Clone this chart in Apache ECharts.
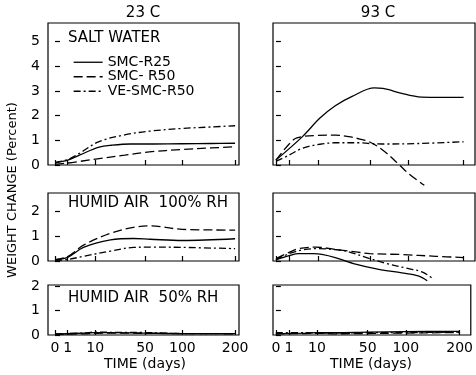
<!DOCTYPE html>
<html>
<head>
<meta charset="utf-8">
<script src="https://cdn.jsdelivr.net/npm/echarts@6/dist/echarts.min.js"></script>
<style>html,body{margin:0;padding:0;background:#fff}#c{width:476px;height:375px}</style>
</head>
<body>
<div id="c"></div>
<script>
// x tick labels (days)
var xTicks = [0, 1, 10, 50, 100, 200];
var yTicksTop = [0, 1, 2, 3, 4, 5];
var yTicksSmall = [0, 1, 2];
var seriesNames = ['SMC-R25', 'SMC- R50', 'VE-SMC-R50'];

// 23 C, salt water
var sw23_t_r25 = [0, 1, 4, 12, 20, 35, 60, 100, 150, 200];
var sw23_v_r25 = [0.1, 0.2, 0.42, 0.72, 0.8, 0.85, 0.85, 0.86, 0.87, 0.88];
var sw23_t_r50 = [0, 1, 4, 12, 30, 55, 100, 150, 200];
var sw23_v_r50 = [0.03, 0.08, 0.15, 0.26, 0.4, 0.53, 0.63, 0.69, 0.74];
var sw23_t_ve = [0, 1, 4, 12, 30, 55, 100, 150, 200];
var sw23_v_ve = [0.1, 0.22, 0.5, 0.95, 1.22, 1.37, 1.48, 1.54, 1.59];

// 93 C, salt water
var sw93_t_r25 = [0, 4, 11, 20, 33, 55, 65, 90, 115, 145, 200];
var sw93_v_r25 = [0.2, 1.15, 1.9, 2.4, 2.78, 3.12, 3.1, 2.9, 2.76, 2.74, 2.74];
var sw93_t_r50 = [0, 1, 2.5, 10, 20, 30, 40, 50, 65, 85, 100, 125];
var sw93_v_r50 = [0.2, 0.85, 1.1, 1.2, 1.21, 1.15, 1.05, 0.93, 0.6, 0.05, -0.35, -0.82];
var sw93_t_ve = [0, 1, 4, 11, 20, 40, 50, 65, 115, 200];
var sw93_v_ve = [0.15, 0.4, 0.68, 0.84, 0.9, 0.9, 0.87, 0.85, 0.87, 0.94];

// 23 C, humid air 100% RH
var h100_23_t_r25 = [0, 1, 5, 19, 38, 56, 100, 200];
var h100_23_v_r25 = [0.05, 0.15, 0.55, 0.85, 0.91, 0.88, 0.83, 0.9];
var h100_23_t_r50 = [0, 1, 5, 19, 38, 56, 100, 200];
var h100_23_v_r50 = [0.05, 0.18, 0.64, 1.12, 1.36, 1.42, 1.28, 1.25];
var h100_23_t_ve = [0, 1, 5, 19, 38, 56, 100, 200];
var h100_23_v_ve = [0.02, 0.06, 0.19, 0.4, 0.55, 0.56, 0.55, 0.5];

// 93 C, humid air 100% RH
var h100_93_t_r25 = [0, 1, 3, 8, 12, 20, 36, 60, 90, 115, 130];
var h100_93_v_r25 = [0.05, 0.22, 0.3, 0.3, 0.27, 0.14, -0.13, -0.34, -0.48, -0.6, -0.8];
var h100_93_t_r50 = [0, 1, 3, 9, 20, 36, 50, 90, 145, 200];
var h100_93_v_r50 = [0.1, 0.35, 0.5, 0.56, 0.47, 0.37, 0.3, 0.26, 0.19, 0.14];
var h100_93_t_ve = [0, 1, 4, 10, 20, 28, 50, 69, 100, 122, 142];
var h100_93_v_ve = [0.05, 0.3, 0.45, 0.5, 0.46, 0.4, 0.1, -0.1, -0.31, -0.45, -0.75];

// 23 C, humid air 50% RH
var h50_23_t = [0, 5, 10, 20, 50, 100, 200];
var h50_23_v_r25 = [0.03, 0.08, 0.1, 0.1, 0.08, 0.06, 0.06];
var h50_23_v_r50 = [0.02, 0.05, 0.07, 0.08, 0.07, 0.06, 0.05];
var h50_23_v_ve = [0.05, 0.08, 0.12, 0.11, 0.1, 0.06, 0.06];

// 93 C, humid air 50% RH
var h50_93_t = [0, 5, 10, 20, 50, 100, 200];
var h50_93_v_r25 = [0.05, 0.08, 0.1, 0.1, 0.12, 0.14, 0.15];
var h50_93_v_r50 = [0.05, 0.06, 0.07, 0.05, 0.06, 0.08, 0.1];
var h50_93_v_ve = [0.1, 0.1, 0.08, 0.08, 0.1, 0.1, 0.12];

var FONT = 'DejaVu Sans';
var chart = echarts.init(document.getElementById('c'), null, {renderer: 'canvas'});

function pts(ts, vs) {
  return ts.map(function (t, i) { return [Math.sqrt(t), vs[i]]; });
}
var dashTypes = ['solid', [9, 4], [7, 3, 2, 3]];

var grids = [
  {left: 48, top: 23, width: 191, height: 142},
  {left: 273, top: 23, width: 202, height: 142},
  {left: 48, top: 193, width: 191, height: 68},
  {left: 273, top: 193, width: 202, height: 68},
  {left: 48, top: 285, width: 191, height: 50},
  {left: 273, top: 285, width: 202, height: 50}
];
grids.forEach(function (g) { g.show = true; g.borderColor = '#000'; g.borderWidth = 1.2; g.backgroundColor = 'transparent'; });

var xSqrt = xTicks.map(function (t) { return Math.sqrt(t); });
var xAxes = [], yAxes = [];
var yMax = [5.75, 5.75, 2.75, 2.75, 2.05, 2.05];
for (var i = 0; i < 6; i++) {
  var left = (i % 2 === 0);
  var bottom = (i >= 4);
  xAxes.push({
    type: 'value', gridIndex: i,
    min: left ? -0.55 : -0.22, max: left ? 14.45 : 15.0,
    axisLine: {show: false},
    splitLine: {show: false},
    axisTick: {show: true, inside: true, length: 5, customValues: xSqrt, lineStyle: {color: '#000', width: 1.2}},
    axisLabel: {
      show: bottom, customValues: xSqrt, margin: 6, color: '#000', fontFamily: FONT, fontSize: 14,
      formatter: function (v) {
        var t = Math.round(v * v);
        return String(t);
      }
    }
  });
  var yt = (i < 2) ? yTicksTop : yTicksSmall;
  yAxes.push({
    type: 'value', gridIndex: i, min: 0, max: yMax[i],
    axisLine: {show: false},
    splitLine: {show: false},
    axisTick: {show: true, inside: true, length: 5, customValues: yt, lineStyle: {color: '#000', width: 1.2}},
    axisLabel: {show: left, customValues: yt, margin: 8, color: '#000', fontFamily: FONT, fontSize: 14}
  });
}

var panelData = [
  [[sw23_t_r25, sw23_v_r25], [sw23_t_r50, sw23_v_r50], [sw23_t_ve, sw23_v_ve]],
  [[sw93_t_r25, sw93_v_r25], [sw93_t_r50, sw93_v_r50], [sw93_t_ve, sw93_v_ve]],
  [[h100_23_t_r25, h100_23_v_r25], [h100_23_t_r50, h100_23_v_r50], [h100_23_t_ve, h100_23_v_ve]],
  [[h100_93_t_r25, h100_93_v_r25], [h100_93_t_r50, h100_93_v_r50], [h100_93_t_ve, h100_93_v_ve]],
  [[h50_23_t, h50_23_v_r25], [h50_23_t, h50_23_v_r50], [h50_23_t, h50_23_v_ve]],
  [[h50_93_t, h50_93_v_r25], [h50_93_t, h50_93_v_r50], [h50_93_t, h50_93_v_ve]]
];

var series = [];
panelData.forEach(function (panel, p) {
  panel.forEach(function (d, k) {
    series.push({
      type: 'line', name: seriesNames[k],
      xAxisIndex: p, yAxisIndex: p,
      data: pts(d[0], d[1]),
      smooth: 0.35, symbol: 'none', clip: false,
      legendIcon: 'none',
      itemStyle: {color: '#000'},
      lineStyle: {color: '#000', width: 1.3, type: dashTypes[k]},
      silent: true, animation: false
    });
  });
});

var option = {
  backgroundColor: '#fff',
  animation: false,
  grid: grids,
  xAxis: xAxes,
  yAxis: yAxes,
  series: series,
  legend: {
    orient: 'vertical', left: 68, top: 50,
    itemWidth: 29, itemHeight: 10, itemGap: 0,
    selectedMode: false,
    data: seriesNames,
    textStyle: {color: '#000', fontFamily: FONT, fontSize: 14, lineHeight: 14.5},
    itemStyle: {opacity: 0},
    lineStyle: {color: '#000', width: 1.3}
  },
  graphic: [
    {type: 'text', x: 143, y: 13, style: {text: '23 C', font: '15px "DejaVu Sans"', fill: '#000', align: 'center', verticalAlign: 'middle'}},
    {type: 'text', x: 378, y: 13, style: {text: '93 C', font: '15px "DejaVu Sans"', fill: '#000', align: 'center', verticalAlign: 'middle'}},
    {type: 'text', x: 68, y: 38, style: {text: 'SALT WATER', font: '15px "DejaVu Sans"', fill: '#000', align: 'left', verticalAlign: 'middle'}},
    {type: 'text', x: 68, y: 203, style: {text: 'HUMID AIR  100% RH', font: '15px "DejaVu Sans"', fill: '#000', align: 'left', verticalAlign: 'middle'}},
    {type: 'text', x: 68, y: 298, style: {text: 'HUMID AIR  50% RH', font: '15px "DejaVu Sans"', fill: '#000', align: 'left', verticalAlign: 'middle'}},
    {type: 'text', x: 13, y: 190, rotation: Math.PI / 2, style: {text: 'WEIGHT CHANGE (Percent)', font: '13px "DejaVu Sans"', fill: '#000', align: 'center', verticalAlign: 'middle'}},
    {type: 'text', x: 145, y: 364, style: {text: 'TIME (days)', font: '14px "DejaVu Sans"', fill: '#000', align: 'center', verticalAlign: 'middle'}},
    {type: 'text', x: 371, y: 364, style: {text: 'TIME (days)', font: '14px "DejaVu Sans"', fill: '#000', align: 'center', verticalAlign: 'middle'}}
  ]
};
chart.setOption(option);
</script>
</body>
</html>
